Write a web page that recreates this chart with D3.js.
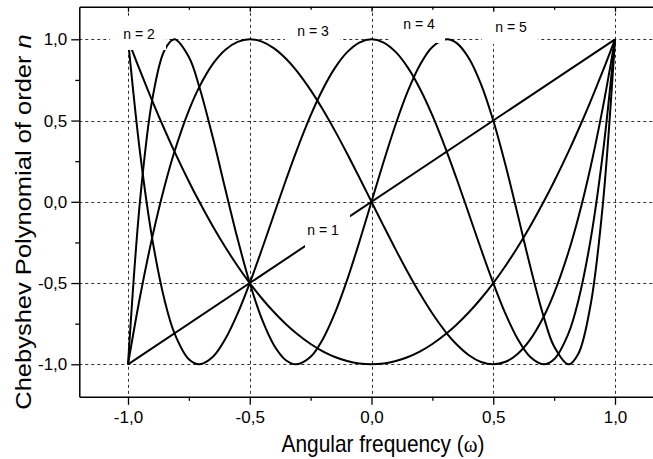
<!DOCTYPE html>
<html>
<head>
<meta charset="utf-8">
<script src="https://cdn.jsdelivr.net/npm/d3@7"></script>
<style>
  html, body { margin: 0; padding: 0; background: #fff; }
  svg { display: block; }
  text { font-family: "Liberation Sans", Arial, sans-serif; fill: #000; }
</style>
</head>
<body>
<svg id="chart" width="653" height="459"></svg>
<script>
// Sample frequencies (omega) and the Chebyshev polynomial values at each of them
const frequency = [-1, -0.95, -0.9, -0.85, -0.809, -0.75, -0.707, -0.65, -0.6, -0.55, -0.5, -0.45, -0.4, -0.35, -0.309, -0.25, -0.2, -0.15, -0.1, -0.05, 0, 0.05, 0.1, 0.15, 0.2, 0.25, 0.309, 0.35, 0.4, 0.45, 0.5, 0.55, 0.6, 0.65, 0.707, 0.75, 0.809, 0.85, 0.9, 0.95, 1];

const orderOneFrequency = [-1, 1];
const orderOne = [-1, 1];

const orderTwo = [1, 0.805, 0.62, 0.445, 0.309, 0.125, 0.0, -0.155, -0.28, -0.395, -0.5, -0.595, -0.68, -0.755, -0.809, -0.875, -0.92, -0.955, -0.98, -0.995, -1, -0.995, -0.98, -0.955, -0.92, -0.875, -0.809, -0.755, -0.68, -0.595, -0.5, -0.395, -0.28, -0.155, 0.0, 0.125, 0.309, 0.445, 0.62, 0.805, 1];

const orderThree = [-1, -0.5795, -0.216, 0.0935, 0.3091, 0.5625, 0.7074, 0.8515, 0.936, 0.9845, 1, 0.9855, 0.944, 0.8785, 0.809, 0.6875, 0.568, 0.4365, 0.296, 0.1495, 0, -0.1495, -0.296, -0.4365, -0.568, -0.6875, -0.809, -0.8785, -0.944, -0.9855, -1, -0.9845, -0.936, -0.8515, -0.7074, -0.5625, -0.3091, -0.0935, 0.216, 0.5795, 1];

const orderFour = [1, 0.2961, -0.2312, -0.604, -0.8091, -0.9688, -1, -0.952, -0.8432, -0.688, -0.5, -0.292, -0.0752, 0.1401, 0.3091, 0.5313, 0.6928, 0.8241, 0.9208, 0.98, 1, 0.98, 0.9208, 0.8241, 0.6928, 0.5313, 0.3091, 0.1401, -0.0752, -0.292, -0.5, -0.688, -0.8432, -0.952, -1, -0.9688, -0.8091, -0.604, -0.2312, 0.2961, 1];

const orderFive = [-1, 0.017, 0.6322, 0.9332, 1, 0.8906, 0.7066, 0.386, 0.0758, -0.2278, -0.5, -0.7227, -0.8838, -0.9765, -1, -0.9531, -0.8451, -0.6837, -0.4802, -0.2475, 0, 0.2475, 0.4802, 0.6837, 0.8451, 0.9531, 1, 0.9765, 0.8838, 0.7227, 0.5, 0.2278, -0.0758, -0.386, -0.7066, -0.8906, -1, -0.9332, -0.6322, -0.017, 1];

const seriesLabels = ["n = 1", "n = 2", "n = 3", "n = 4", "n = 5"];

// Axis ticks
const majorTicks = [-1, -0.5, 0, 0.5, 1];
const minorTicks = [-0.75, -0.25, 0.25, 0.75];
const tickLabels = ["-1,0", "-0,5", "0,0", "0,5", "1,0"];

// ---- layout ----
const svg = d3.select("#chart");
const plotLeft = 79.3, plotRight = 663.7, plotTop = 6.8, plotBottom = 396.8;

const x = d3.scaleLinear().domain([-1.2, 1.2]).range([plotLeft, plotRight]);
const y = d3.scaleLinear().domain([-1.2, 1.2]).range([plotBottom, plotTop]);

// Dotted grid at the major ticks
const grid = svg.append("g").attr("stroke", "#333").attr("stroke-width", 1)
  .attr("stroke-dasharray", "3,3").attr("fill", "none");
grid.selectAll("line.v").data(majorTicks).join("line").attr("class", "v")
  .attr("x1", d => Math.round(x(d)) + 0.5).attr("x2", d => Math.round(x(d)) + 0.5)
  .attr("y1", plotTop).attr("y2", plotBottom);
grid.selectAll("line.h").data(majorTicks).join("line").attr("class", "h")
  .attr("y1", d => Math.round(y(d)) + 0.5).attr("y2", d => Math.round(y(d)) + 0.5)
  .attr("x1", plotLeft).attr("x2", plotRight);

// Curves
const series = [
  { xs: orderOneFrequency, ys: orderOne },
  { xs: frequency, ys: orderTwo },
  { xs: frequency, ys: orderThree },
  { xs: frequency, ys: orderFour },
  { xs: frequency, ys: orderFive }
];
const line = d3.line()
  .x(d => x(d[0])).y(d => y(d[1]))
  .curve(d3.curveCatmullRom.alpha(0.5));

svg.append("g").selectAll("path").data(series).join("path")
  .attr("d", s => line(s.xs.map((v, i) => [v, s.ys[i]])))
  .attr("fill", "none").attr("stroke", "#000").attr("stroke-width", 2)
  .attr("stroke-linejoin", "round");

// Series labels on white boxes
const labelBoxes = [
  { cx: 323, cy: 230, x0: 305, x1: 350, y0: 213, y1: 249 },
  { cx: 139, cy: 34,  x0: 110, x1: 166, y0: 17,  y1: 50 },
  { cx: 313, cy: 31,  x0: 285, x1: 340, y0: 14,  y1: 44 },
  { cx: 419, cy: 24,  x0: 390, x1: 445, y0: 10,  y1: 43 },
  { cx: 511, cy: 27,  x0: 482, x1: 538, y0: 12,  y1: 44 }
];
const labels = svg.append("g");
labels.selectAll("rect").data(labelBoxes).join("rect")
  .attr("x", d => d.x0).attr("y", d => d.y0)
  .attr("width", d => d.x1 - d.x0).attr("height", d => d.y1 - d.y0)
  .attr("fill", "#fff");
labels.selectAll("text").data(labelBoxes).join("text")
  .attr("x", d => d.cx).attr("y", d => d.cy)
  .attr("text-anchor", "middle").attr("dominant-baseline", "central")
  .attr("font-size", 14)
  .text((d, i) => seriesLabels[i]);

// Axes
function styleAxis(g) {
  g.selectAll("path.domain").attr("stroke", "#000").attr("stroke-width", 1.5);
  g.selectAll(".tick line").attr("stroke", "#000").attr("stroke-width", 1.3);
}

const fmt = d => tickLabels[majorTicks.indexOf(d)];

// bottom
const gx = svg.append("g").attr("transform", `translate(0,${plotBottom})`)
  .call(d3.axisBottom(x).tickValues(majorTicks).tickSize(8).tickSizeOuter(0).tickFormat(fmt).tickPadding(6));
gx.call(styleAxis);
gx.selectAll(".tick text").attr("font-size", 17).attr("font-family", "Liberation Sans, Arial, sans-serif");
svg.append("g").attr("transform", `translate(0,${plotBottom})`)
  .call(d3.axisBottom(x).tickValues(minorTicks).tickSize(4).tickFormat(""))
  .call(styleAxis).select("path.domain").remove();

// left
const gy = svg.append("g").attr("transform", `translate(${plotLeft},0)`)
  .call(d3.axisLeft(y).tickValues(majorTicks).tickSize(8).tickSizeOuter(0).tickFormat(fmt).tickPadding(4));
gy.call(styleAxis);
gy.selectAll(".tick text").attr("font-size", 17).attr("font-family", "Liberation Sans, Arial, sans-serif");
svg.append("g").attr("transform", `translate(${plotLeft},0)`)
  .call(d3.axisLeft(y).tickValues(minorTicks).tickSize(4).tickFormat(""))
  .call(styleAxis).select("path.domain").remove();

// top (ticks pointing inward)
svg.append("g").attr("transform", `translate(0,${plotTop})`)
  .call(d3.axisBottom(x).tickValues(majorTicks).tickSize(5).tickSizeOuter(0).tickFormat(""))
  .call(styleAxis);
svg.append("g").attr("transform", `translate(0,${plotTop})`)
  .call(d3.axisBottom(x).tickValues(minorTicks).tickSize(3).tickFormat(""))
  .call(styleAxis).select("path.domain").remove();

// Axis titles
const xTitle = svg.append("text")
  .attr("transform", `translate(383,452) scale(0.87,1)`)
  .attr("text-anchor", "middle").attr("font-size", 24);
xTitle.append("tspan").text("Angular frequency (");
xTitle.append("tspan").attr("font-family", "Liberation Serif, serif").text("ω");
xTitle.append("tspan").text(")");

const yTitle = svg.append("text")
  .attr("transform", `translate(31,222) scale(0.87,1) rotate(-90)`)
  .attr("text-anchor", "middle").attr("font-size", 25.5);
yTitle.append("tspan").text("Chebyshev Polynomial of order ");
yTitle.append("tspan").attr("font-style", "italic").text("n");
</script>
</body>
</html>
